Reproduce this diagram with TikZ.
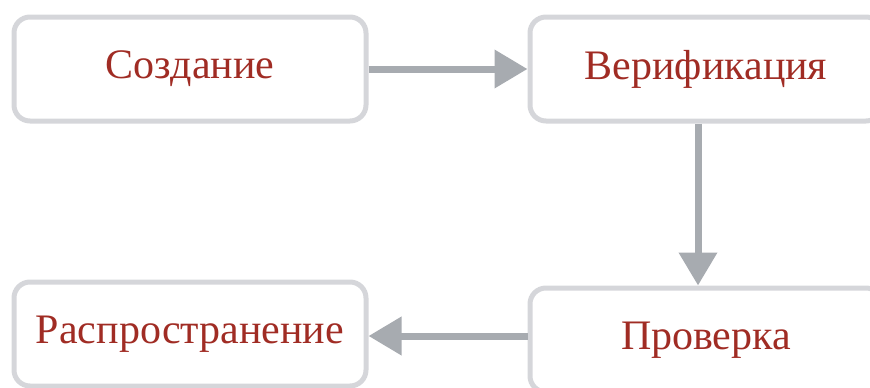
\documentclass[tikz,border=0pt]{standalone}
\usepackage{fontspec}
\setmainfont{Liberation Serif}
\usetikzlibrary{arrows.meta}

\definecolor{boxline}{HTML}{D5D6DA}
\definecolor{arrowgray}{HTML}{A7ABB0}
\definecolor{textred}{HTML}{A02C24}

\begin{document}
\begin{tikzpicture}[x=1pt,y=1pt,
    stage/.style={rectangle,draw=boxline,line width=5pt,rounded corners=16pt,
        minimum width=352pt,minimum height=104pt,inner sep=0pt,
        text=textred,font=\fontsize{42}{50}\selectfont},
    flow/.style={draw=arrowgray,line width=7pt,
        -{Triangle[length=33pt,width=37pt]}}]
    \useasboundingbox (0,0) rectangle (870,-388);

    \node (a) at (190,-69) [stage] {Создание};
    \node (b) at (706,-69) [stage] {Верификация};
    \node (c) at (706,-340) [stage] {Проверка};
    \node (d) at (190,-334) [stage] {Распространение};

    \draw[flow] (a) -- (b);
    \draw[flow] ([xshift=-8pt]b.south) -- ([xshift=-8pt]c.north);
    \draw[flow] ([yshift=4pt]c.west) -- ([yshift=-2pt]d.east);
\end{tikzpicture}
\end{document}
